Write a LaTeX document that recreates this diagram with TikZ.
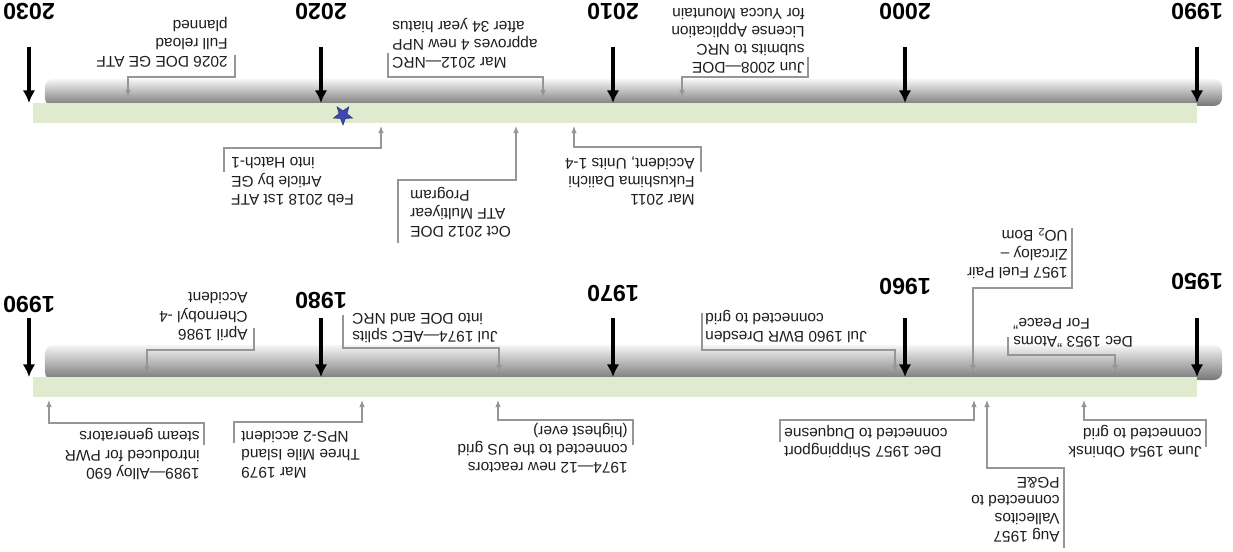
\documentclass[tikz,border=0pt]{standalone}
\usepackage{fontspec}
\setmainfont{Liberation Sans}
\usetikzlibrary{arrows.meta,shapes.geometric}
\definecolor{barfill}{RGB}{224,234,207}
\definecolor{shadedark}{RGB}{118,118,118}
\definecolor{shadelight}{RGB}{246,246,246}
\definecolor{leadgray}{RGB}{150,150,150}
\definecolor{notetext}{RGB}{30,30,30}
\definecolor{starblue}{RGB}{62,72,178}
\tikzset{
  yearlbl/.style={font=\fontsize{16.5}{18}\selectfont\bfseries, inner sep=0pt},
  yeararrow/.style={-{Latex[length=9pt,width=9pt]}, line width=2.6pt},
  note/.style={font=\fontsize{11}{13}\selectfont, text=notetext, inner sep=0pt},
  noteL/.style={note, align=left, anchor=north west},
  noteR/.style={note, align=right, anchor=north east},
  lead/.style={draw=leadgray, line width=0.8pt},
  leadarrow/.style={lead, -{Latex[length=5pt,width=4pt]}},
  bar/.style={fill=barfill},
  barshadow/.style={top color=shadelight, bottom color=shadedark, rounded corners=0.2cm},
  hatchstar/.style={star, star points=5, star point ratio=2.4, fill=starblue, draw=starblue!70!black, minimum size=0.5cm, inner sep=0pt}
}

\begin{document}
\begin{tikzpicture}[x=0.025cm, y=0.025cm]
\begin{scope}[rotate=180, transform shape]
  \useasboundingbox (0,0) rectangle (1233,551);

  % bands
  \shade[barshadow] (11,79) rectangle (1188,106);
  \fill[bar] (36,103) rectangle (1200,123);
  \shade[barshadow] (11,345) rectangle (1188,380);
  \fill[bar] (36,377) rectangle (1200,397);

  % years
  \foreach \yr [count=\i from 0] in {1990,2000,2010,2020,2030} {
    \node[yearlbl] (lo\yr) at (36+292*\i,11) {\yr};
    \coordinate (lotail\yr) at (36+292*\i,47);
    \coordinate (lohead\yr) at (36+292*\i,103);
    \draw[yeararrow] (lotail\yr) -- (lohead\yr);
  }
  \foreach \yr/\ly [count=\i from 0] in {1950/281,1960/286,1970/293,1980/300,1990/304} {
    \node[yearlbl] (hi\yr) at (36+292*\i,\ly) {\yr};
    \coordinate (hitail\yr) at (36+292*\i,318);
    \coordinate (hihead\yr) at (36+292*\i,377);
    \draw[yeararrow] (hitail\yr) -- (hihead\yr);
  }

  \node[hatchstar] (star18) at (890,115) {};

  % 1990-2030, below the band
  \node[noteL] (atf26) at (1005,68) {2026 DOE GE ATF\\Full reload\\planned};
  \coordinate (atf26a) at (998,55); \coordinate (atf26b) at (1105,77); \coordinate (atf26c) at (1105,97);
  \draw[leadarrow] (atf26a) |- (atf26b) -- (atf26c);

  \node[noteR] (nrc12) at (841,69) {Mar 2012---NRC\\approves 4 new NPP\\after 34 year hiatus};
  \coordinate (nrc12a) at (845,53); \coordinate (nrc12b) at (690,77); \coordinate (nrc12c) at (690,97);
  \draw[leadarrow] (nrc12a) |- (nrc12b) -- (nrc12c);

  \node[noteL] (yucca08) at (428,74) {Jun 2008---DOE\\submits to NRC\\License Application\\for Yucca Mountain};
  \coordinate (yucca08a) at (425,57); \coordinate (yucca08b) at (551,77); \coordinate (yucca08c) at (551,97);
  \draw[leadarrow] (yucca08a) |- (yucca08b) -- (yucca08c);

  % 1990-2030, above the band
  \node[noteR] (hatch18) at (1002,206) {Feb 2018 1st ATF\\Article by GE\\into Hatch-1};
  \coordinate (hatch18a) at (1009,172); \coordinate (hatch18b) at (852,148); \coordinate (hatch18c) at (852,126);
  \draw[leadarrow] (hatch18a) |- (hatch18b) -- (hatch18c);

  \node[noteR] (doe12) at (823,238) {Oct 2012 DOE\\ATF Multiyear\\Program};
  \coordinate (doe12a) at (835,243); \coordinate (doe12b) at (717,180); \coordinate (doe12c) at (717,126);
  \draw[leadarrow] (doe12a) |- (doe12b) -- (doe12c);

  \node[noteL] (fuku11) at (538,206) {Mar 2011\\Fukushima Daiichi\\Accident, Units 1-4};
  \coordinate (fuku11a) at (532,172); \coordinate (fuku11b) at (659,147); \coordinate (fuku11c) at (659,126);
  \draw[leadarrow] (fuku11a) |- (fuku11b) -- (fuku11c);

  % 1950-1990, below the band
  \node[noteL] (cher86) at (985,341) {April 1986\\Chernobyl -4\\Accident};
  \coordinate (cher86a) at (979,328); \coordinate (cher86b) at (1086,350); \coordinate (cher86c) at (1086,373);
  \draw[leadarrow] (cher86a) |- (cher86b) -- (cher86c);

  \node[noteR] (aec74) at (881,343) {Jul 1974---AEC splits\\into DOE and NRC};
  \coordinate (aec74a) at (890,315); \coordinate (aec74b) at (734,348); \coordinate (aec74c) at (734,372);
  \draw[leadarrow] (aec74a) |- (aec74b) -- (aec74c);

  \node[noteR] (dres60) at (528,343) {Jul 1960 BWR Dresden\\connected to grid};
  \coordinate (dres60a) at (531,313); \coordinate (dres60b) at (338,350); \coordinate (dres60c) at (338,372);
  \draw[leadarrow] (dres60a) |- (dres60b) -- (dres60c);

  \node[noteR] (atoms53) at (220,348) {Dec 1953 "Atoms\\For Peace"};
  \coordinate (atoms53a) at (225,337); \coordinate (atoms53b) at (118,355); \coordinate (atoms53c) at (118,372);
  \draw[leadarrow] (atoms53a) |- (atoms53b) -- (atoms53c);

  \node[noteL] (fuel57) at (165,279) {1957 Fuel Pair\\Zircaloy --\\UO\textsubscript{2} Bom};
  \coordinate (fuel57a) at (161,228); \coordinate (fuel57b) at (260,288); \coordinate (fuel57c) at (260,372);
  \draw[leadarrow] (fuel57a) |- (fuel57b) -- (fuel57c);

  % 1950-1990, above the band
  \node[noteL] (alloy89) at (1033,480) {1989---Alloy 690\\introduced for PWR\\steam generators};
  \coordinate (alloy89a) at (1029,445); \coordinate (alloy89b) at (1184,423); \coordinate (alloy89c) at (1184,400);
  \draw[leadarrow] (alloy89a) |- (alloy89b) -- (alloy89c);

  \node[noteR] (tmi79) at (992,479) {Mar 1979\\Three Mile Island\\NPS-2 accident};
  \coordinate (tmi79a) at (999,443); \coordinate (tmi79b) at (871,422); \coordinate (tmi79c) at (871,400);
  \draw[leadarrow] (tmi79a) |- (tmi79b) -- (tmi79c);

  \node[noteL] (us74) at (605,474) {1974---12 new reactors\\connected to the US grid\\(highest ever)};
  \coordinate (us74a) at (600,445); \coordinate (us74b) at (735,420); \coordinate (us74c) at (735,400);
  \draw[leadarrow] (us74a) |- (us74b) -- (us74c);

  \node[noteR] (ship57) at (449,458) {Dec 1957 Shippingport\\connected to Duquesne};
  \coordinate (ship57a) at (453,442); \coordinate (ship57b) at (259,420); \coordinate (ship57c) at (259,400);
  \draw[leadarrow] (ship57a) |- (ship57b) -- (ship57c);

  \node[noteL] (vall57) at (173,543) {Aug 1957\\Vallecitos\\connected to\\PG\&E};
  \coordinate (vall57a) at (169,548); \coordinate (vall57b) at (246,468); \coordinate (vall57c) at (246,400);
  \draw[leadarrow] (vall57a) |- (vall57b) -- (vall57c);

  \node[noteL] (obn54) at (31,458) {June 1954 Obninsk\\connected to grid};
  \coordinate (obn54a) at (27,447); \coordinate (obn54b) at (149,420); \coordinate (obn54c) at (149,400);
  \draw[leadarrow] (obn54a) |- (obn54b) -- (obn54c);
\end{scope}
\end{tikzpicture}
\end{document}
